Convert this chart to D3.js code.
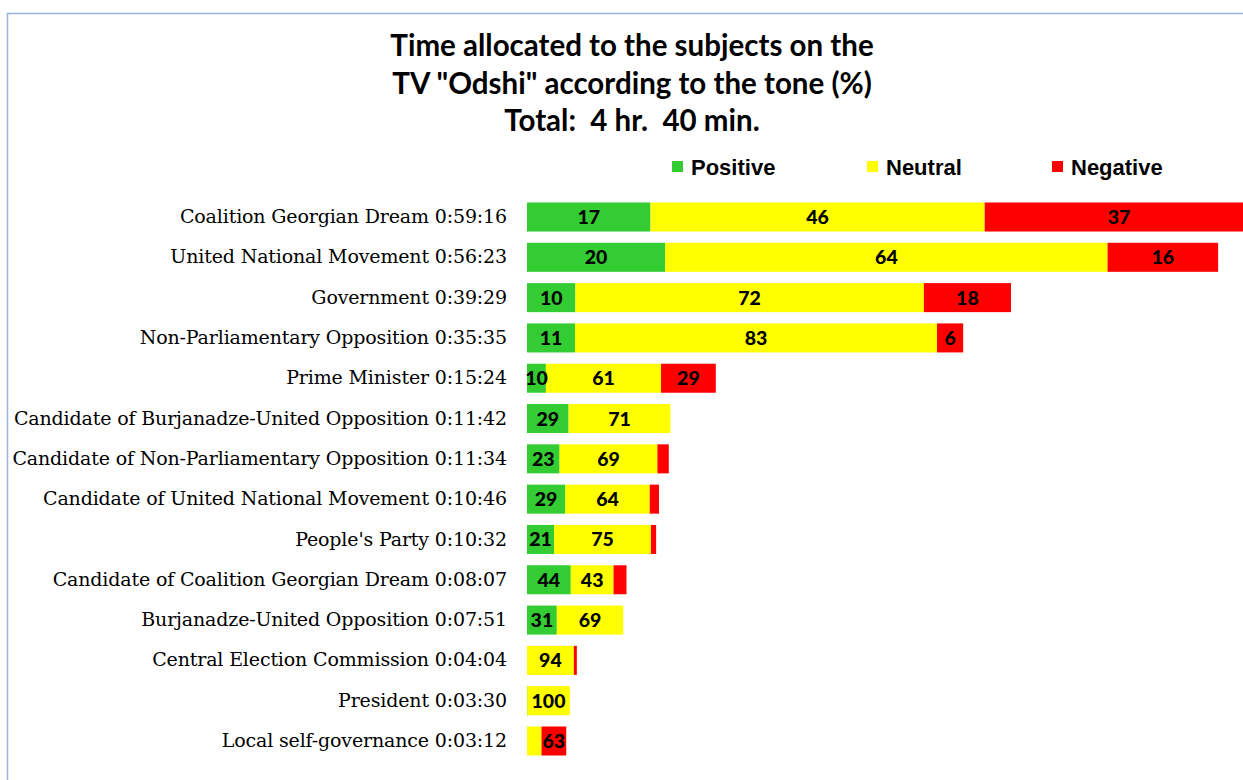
<!DOCTYPE html>
<html>
<head>
<meta charset="utf-8">
<script src="https://cdn.jsdelivr.net/npm/d3@7"></script>
<style>
  html, body { margin: 0; padding: 0; background: #fff; }
  svg { display: block; }
</style>
</head>
<body>
<div id="chart"></div>
<script>
// subjects with air time (h:mm:ss), tone shares in %
const subjects = [
  'Coalition Georgian Dream', 'United National Movement', 'Government',
  'Non-Parliamentary Opposition', 'Prime Minister',
  'Candidate of Burjanadze-United Opposition', 'Candidate of Non-Parliamentary Opposition',
  'Candidate of United National Movement', "People's Party",
  'Candidate of Coalition Georgian Dream', 'Burjanadze-United Opposition',
  'Central Election Commission', 'President', 'Local self-governance'
];
const durations = ['0:59:16', '0:56:23', '0:39:29', '0:35:35', '0:15:24', '0:11:42', '0:11:34',
  '0:10:46', '0:10:32', '0:08:07', '0:07:51', '0:04:04', '0:03:30', '0:03:12'];
const positive = [17, 20, 10, 11, 10, 29, 23, 29, 21, 44, 31, 0, 0.4, 0];
const neutral  = [46, 64, 72, 83, 61, 71, 69, 64, 75, 43, 69, 94, 99.6, 37];
const negative = [37, 16, 18, 6, 29, 0, 8, 7, 4, 13, 0, 6, 0, 63];
const tones = ['Positive', 'Neutral', 'Negative'];
const colors = ['#33cc33', '#ffff00', '#ff0000'];

const width = 1243, height = 780;
const toSec = s => s.split(':').reduce((a, v) => a * 60 + (+v), 0);

const rows = subjects.map((name, i) => ({
  name, time: durations[i], sec: toSec(durations[i]),
  vals: [positive[i], neutral[i], negative[i]]
}));

const svg = d3.select('#chart').append('svg')
  .attr('width', width).attr('height', height);

// chart frame (only top/left edges visible in the picture)
svg.append('path')
  .attr('d', 'M7.5,' + height + 'V13.5H' + width)
  .attr('fill', 'none').attr('stroke', '#9db4da').attr('stroke-width', 1.5);

// title
const title = ['Time allocated to the subjects on the', 'TV "Odshi" according to the tone (%)', 'Total:  4 hr.  40 min.'];
svg.append('text')
  .attr('text-anchor', 'middle')
  .attr('font-family', 'Lato, "Open Sans", sans-serif')
  .attr('font-weight', 'bold').attr('font-size', 29.5)
  .attr('fill', '#000')
  .attr('xml:space', 'preserve')
  .selectAll('tspan').data(title).join('tspan')
  .attr('x', 632).attr('y', (d, i) => [56, 94, 131][i])
  .text(d => d);

// legend
const legendX = [672, 867, 1052];
const lg = svg.append('g').selectAll('g').data(tones).join('g')
  .attr('transform', (d, i) => 'translate(' + legendX[i] + ',161)');
lg.append('rect').attr('width', 11).attr('height', 11).attr('fill', (d, i) => colors[i]);
lg.append('text').attr('x', 19).attr('y', 14)
  .attr('font-family', '"Liberation Sans", Arial, sans-serif')
  .attr('font-weight', 'bold').attr('font-size', 22)
  .text(d => d);

// scales
const x = d3.scaleLinear().domain([0, 3600]).range([527, 527 + 3600 * 0.2043]);
const y = d3.scaleBand().domain(subjects).range([196.85, 761.15])
  .paddingInner(0.28).paddingOuter(0.14);

// category axis
const axis = svg.append('g')
  .attr('transform', 'translate(' + x(0) + ',0)')
  .call(d3.axisLeft(y).tickSize(0).tickPadding(20)
    .tickFormat((d, i) => d + ' ' + durations[i]));
axis.select('.domain').remove();
axis.selectAll('text')
  .attr('font-family', '"DejaVu Serif", "Liberation Serif", serif')
  .attr('font-size', 19).attr('fill', '#000')
  .attr('letter-spacing', '-0.15');

// stacked segments: bar length = time, split by tone share
const segs = [];
rows.forEach(r => {
  let acc = 0;
  r.vals.forEach((v, k) => {
    const s0 = r.sec * acc / 100, s1 = r.sec * (acc + v) / 100;
    segs.push({ name: r.name, k, v, x0: x(s0), x1: x(s1) });
    acc += v;
  });
});

svg.append('g').selectAll('rect').data(segs.filter(d => d.v > 0)).join('rect')
  .attr('x', d => d.x0).attr('y', d => y(d.name))
  .attr('width', d => Math.max(1, d.x1 - d.x0)).attr('height', y.bandwidth())
  .attr('fill', d => colors[d.k]);

svg.append('g').selectAll('text').data(segs.filter(d => d.x1 - d.x0 >= 16)).join('text')
  .attr('x', d => (d.x0 + d.x1) / 2)
  .attr('y', d => y(d.name) + y.bandwidth() / 2)
  .attr('dy', '0.36em')
  .attr('text-anchor', 'middle')
  .attr('font-family', 'Lato, "Open Sans", sans-serif')
  .attr('font-weight', 900).attr('font-size', 19.5)
  .attr('fill', '#000')
  .text(d => Math.round(d.v));
</script>
</body>
</html>
